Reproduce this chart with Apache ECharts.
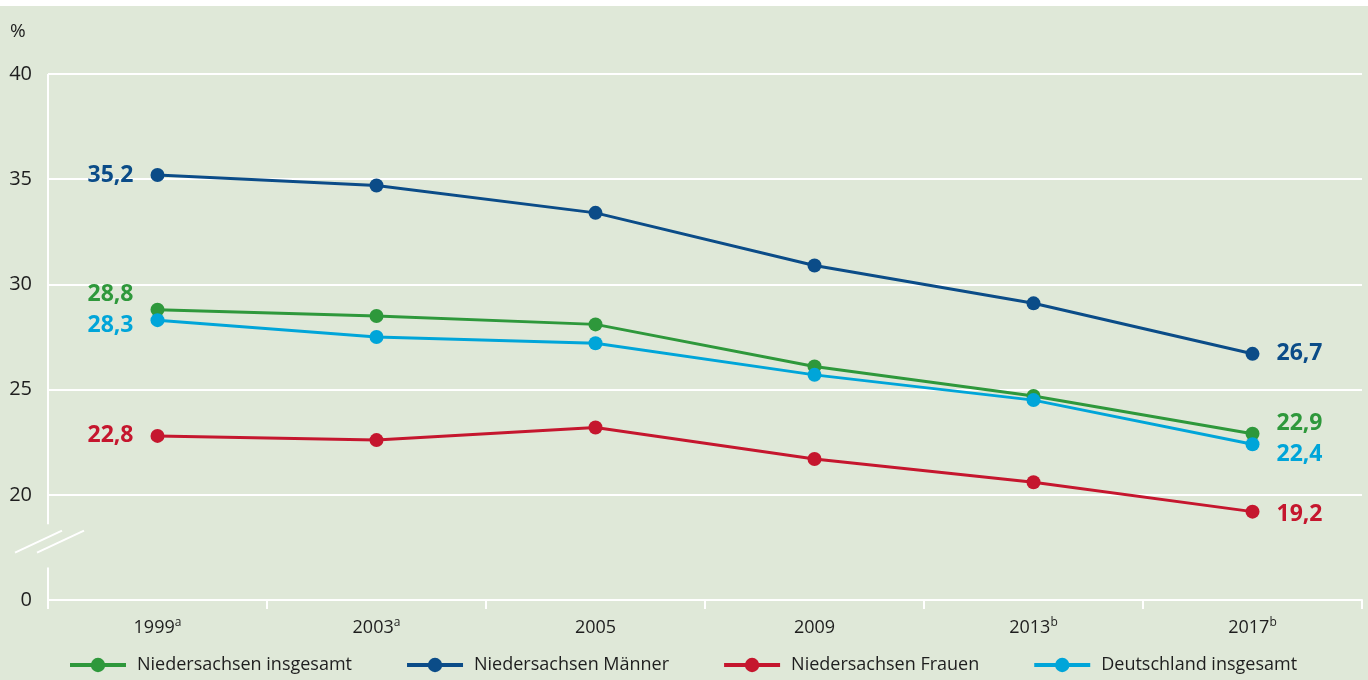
<!DOCTYPE html>
<html>
<head>
<meta charset="utf-8">
<script src="https://cdn.jsdelivr.net/npm/echarts@6/dist/echarts.min.js"></script>
<style>
  html, body { margin: 0; padding: 0; background: #ffffff; }
  #chart { width: 1368px; height: 680px; }
</style>
</head>
<body>
<div id="chart"></div>
<script>
// Survey years (superscript marks the footnote)
const years = ['1999', '2003', '2005', '2009', '2013', '2017'];
const yearNotes = ['a', 'a', '', '', 'b', 'b'];

// Shares in percent
const nsGesamt = [28.8, 28.5, 28.1, 26.1, 24.7, 22.9];
const nsMaenner = [35.2, 34.7, 33.4, 30.9, 29.1, 26.7];
const nsFrauen = [22.8, 22.6, 23.2, 21.7, 20.6, 19.2];
const deGesamt = [28.3, 27.5, 27.2, 25.7, 24.5, 22.4];

// Value axis: the stretch below 20 is cut out, the lowest tick stands for 0
const yTicks = [15, 20, 25, 30, 35, 40];
const yTickLabels = ['0', '20', '25', '30', '35', '40'];

const seriesDefs = [
  { name: 'Niedersachsen insgesamt', data: nsGesamt, color: '#2e983b', firstOffset: [0, -15], lastOffset: [0, -10] },
  { name: 'Niedersachsen Männer', data: nsMaenner, color: '#0b4c88', firstOffset: [0, 0], lastOffset: [0, 0] },
  { name: 'Niedersachsen Frauen', data: nsFrauen, color: '#c5162e', firstOffset: [0, 0], lastOffset: [0, 3] },
  { name: 'Deutschland insgesamt', data: deGesamt, color: '#00a5d9', firstOffset: [0, 5], lastOffset: [0, 10] }
];

const fmt = v => v.toFixed(1).replace('.', ',');
const FONT = '"Open Sans", "Noto Sans", sans-serif';
const TEXT = '#1e1e1e';

const chart = echarts.init(document.getElementById('chart'), null, { renderer: 'canvas' });

function buildSeries(def) {
  const last = def.data.length - 1;
  return {
    name: def.name,
    type: 'line',
    data: def.data.map((v, i) => {
      const item = { value: v };
      if (i === 0 || i === last) {
        item.label = {
          show: true,
          position: i === 0 ? 'left' : 'right',
          distance: 17,
          offset: i === 0 ? def.firstOffset : def.lastOffset,
          formatter: p => fmt(p.value),
          color: def.color,
          fontFamily: FONT,
          fontWeight: 'bold',
          fontSize: 23
        };
      }
      return item;
    }),
    symbol: 'circle',
    symbolSize: 14,
    lineStyle: { width: 3, color: def.color },
    itemStyle: { color: def.color },
    emphasis: { disabled: true },
    animation: false,
    z: 3
  };
}

const option = {
  backgroundColor: '#dfe8d8',
  animation: false,
  textStyle: { fontFamily: FONT },
  grid: { left: 48, right: 6, top: 74, bottom: 80, containLabel: false },
  legend: {
    left: 68,
    top: 656,
    padding: 0,
    itemWidth: 56,
    itemHeight: 18,
    itemGap: 53,
    lineStyle: { width: 4 },
    textStyle: { fontSize: 18, color: TEXT, fontFamily: FONT, padding: [0, 0, 0, 6] },
    data: seriesDefs.map(d => d.name)
  },
  xAxis: {
    type: 'category',
    data: years,
    boundaryGap: true,
    axisLine: { show: true, lineStyle: { color: '#ffffff', width: 2 } },
    axisTick: { show: true, length: 9, lineStyle: { color: '#ffffff', width: 2 } },
    axisLabel: {
      margin: 17,
      formatter: (v, i) => yearNotes[i] ? '{y|' + v + '}{s|' + yearNotes[i] + '}' : '{y|' + v + '}',
      rich: {
        y: { fontSize: 18, color: TEXT, fontFamily: FONT, lineHeight: 22 },
        s: { fontSize: 12, color: TEXT, fontFamily: FONT, verticalAlign: 'top', lineHeight: 22, padding: [0, 0, 12, 0] }
      }
    },
    splitLine: { show: false }
  },
  yAxis: {
    type: 'value',
    min: 15,
    max: 40,
    interval: 5,
    axisLine: { show: false },
    axisTick: { show: false },
    axisLabel: {
      margin: 16,
      fontSize: 20,
      color: TEXT,
      fontFamily: FONT,
      formatter: v => yTickLabels[yTicks.indexOf(v)]
    },
    splitLine: { show: true, lineStyle: { color: '#ffffff', width: 2 } }
  },
  series: seriesDefs.map(buildSeries)
};

chart.setOption(option);

// Unit label, white top strip and the broken vertical axis
const yTop = chart.convertToPixel({ yAxisIndex: 0 }, 40);
const y20 = chart.convertToPixel({ yAxisIndex: 0 }, 20);
const y0 = chart.convertToPixel({ yAxisIndex: 0 }, 15);
const xLeft = chart.convertToPixel({ xAxisIndex: 0 }, 0) - (chart.convertToPixel({ xAxisIndex: 0 }, 1) - chart.convertToPixel({ xAxisIndex: 0 }, 0)) / 2;
const span = y0 - y20;
const gapTop = y20 + span * 0.28;
const gapBottom = y20 + span * 0.69;
const breakTopY = y20 + span * 0.34;
const breakBotY = y20 + span * 0.55;
const white = { stroke: '#ffffff', lineWidth: 2 };

chart.setOption({
  graphic: [
    { type: 'rect', left: 0, top: 0, shape: { width: 1368, height: 6 }, style: { fill: '#ffffff' }, silent: true },
    { type: 'text', left: 10, top: 22, style: { text: '%', fontSize: 19, fill: TEXT, fontFamily: FONT }, silent: true },
    { type: 'line', shape: { x1: xLeft, y1: yTop, x2: xLeft, y2: gapTop }, style: white, silent: true },
    { type: 'line', shape: { x1: xLeft, y1: gapBottom, x2: xLeft, y2: y0 + 9 }, style: white, silent: true },
    { type: 'line', shape: { x1: xLeft - 33, y1: breakBotY, x2: xLeft + 14, y2: breakTopY }, style: white, silent: true },
    { type: 'line', shape: { x1: xLeft - 11, y1: breakBotY, x2: xLeft + 36, y2: breakTopY }, style: white, silent: true }
  ]
});
</script>
</body>
</html>
